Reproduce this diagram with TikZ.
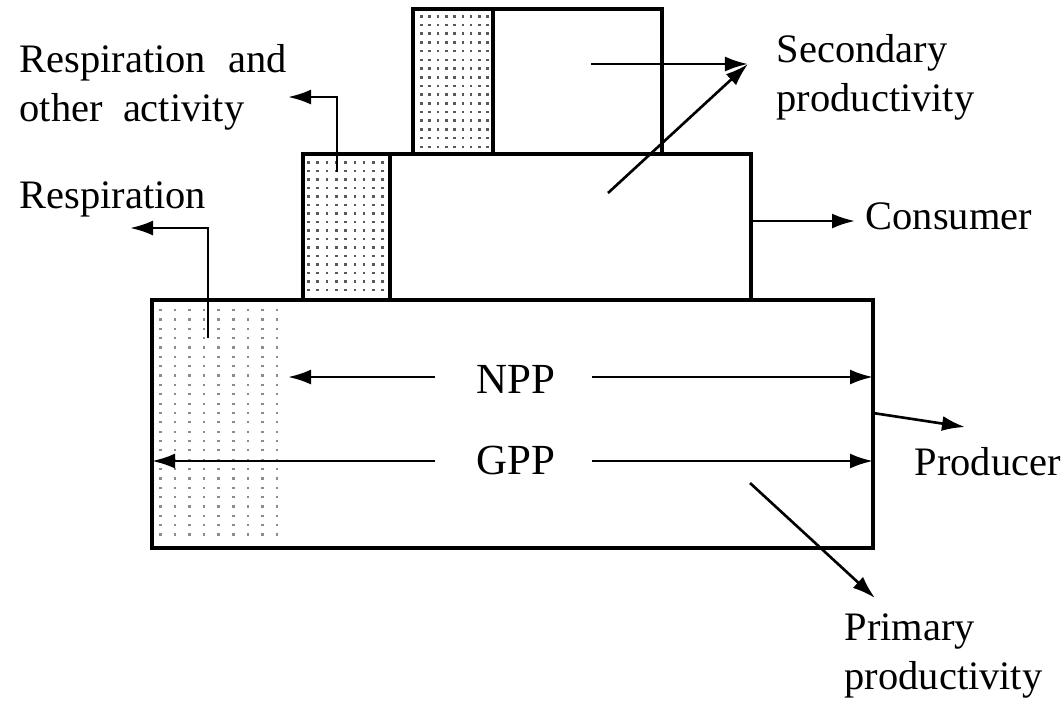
\documentclass[tikz,border=0pt]{standalone}
\usepackage{fontspec}
\setmainfont{Liberation Serif}
\usetikzlibrary{arrows.meta,fit}
\tikzset{
  boxnode/.style={draw, line width=1pt, inner sep=0pt},
  divider/.style={line width=1pt},
  arr/.style={line width=0.75pt, -{Latex[length=2.3mm,width=1.5mm]}},
  lbl/.style={anchor=base west, inner sep=0pt, font=\fontsize{11.5}{14.1}\selectfont},
  bigl/.style={anchor=base, inner sep=0pt, font=\fontsize{12.2}{14}\selectfont},
  dotA/.style={fill=black!65},
  dotB/.style={fill=black!45},
}
\begin{document}
\begin{tikzpicture}[x=0.01cm,y=-0.01cm]
\useasboundingbox (0,0) rectangle (1064,705);

% stipple dots
\foreach \i in {0,...,8} \foreach \j in {0,...,15}
  \fill[dotA] (420+\i*8.3, 15+\j*8.7) rectangle ++(2.6,2.6);
\foreach \i in {0,...,8} \foreach \j in {0,...,15}
  \fill[dotA] (307+\i*9.3, 161+\j*8.5) rectangle ++(2.6,2.6);
\foreach \i in {0,...,8} \foreach \j in {0,...,24}
  \fill[dotB] (159+\i*14.6, 309+\j*9.35) rectangle ++(2.6,2.2);

% boxes
\coordinate (t1) at (413,9);   \coordinate (t2) at (662,154);
\coordinate (m1) at (303,154); \coordinate (m2) at (751,300);
\coordinate (b1) at (152,300); \coordinate (b2) at (873,548);
\node[boxnode, fit=(t1)(t2)] (top) {};
\node[boxnode, fit=(m1)(m2)] (mid) {};
\node[boxnode, fit=(b1)(b2)] (bot) {};
\draw[divider] (493,9) -- (493,154);
\draw[divider] (390,154) -- (390,300);

% labels
\node[lbl] (lresp2) at (19,72) {\begin{tabular}[t]{@{}l@{}}Respiration\hspace{0.55em}and\\other\hspace{0.5em}activity\end{tabular}};
\node[lbl] (lresp1) at (19,208) {Respiration};
\node[lbl] (lsec) at (776,62) {\begin{tabular}[t]{@{}l@{}}Secondary\\productivity\end{tabular}};
\node[lbl] (lcons) at (865,229) {Consumer};
\node[bigl] (npp) at (516,393) {NPP};
\node[bigl] (gpp) at (516,474) {GPP};
\node[lbl] (lprod) at (914,475) {Producer};
\node[lbl] (lprim) at (844,640) {\begin{tabular}[t]{@{}l@{}}Primary\\productivity\end{tabular}};

% arrow end points
\coordinate (r1s) at (208,338); \coordinate (r1e) at (130,228);
\coordinate (r2s) at (337,172); \coordinate (r2e) at (288,97);
\coordinate (s1s) at (591,64);  \coordinate (se) at (748,64);
\coordinate (s2s) at (608,193);
\coordinate (cs) at (751,221);  \coordinate (ce) at (855,221);
\coordinate (nls) at (435,377); \coordinate (nle) at (288,377);
\coordinate (nrs) at (592,377); \coordinate (nre) at (873,377);
\coordinate (gls) at (435,461); \coordinate (gle) at (152,461);
\coordinate (grs) at (592,461); \coordinate (gre) at (873,461);
\coordinate (ps) at (873,413);  \coordinate (pe) at (965,427);
\coordinate (qs) at (750,483);  \coordinate (qe) at (875,598);

% arrows
\draw[arr] (r1s) |- (r1e);
\draw[arr] (r2s) |- (r2e);
\draw[arr] (s1s) -- (se);
\draw[arr] (s2s) -- (se);
\draw[arr] (cs) -- (ce);
\draw[arr] (nls) -- (nle);
\draw[arr] (nrs) -- (nre);
\draw[arr] (gls) -- (gle);
\draw[arr] (grs) -- (gre);
\draw[arr] (ps) -- (pe);
\draw[arr] (qs) -- (qe);
\end{tikzpicture}
\end{document}
